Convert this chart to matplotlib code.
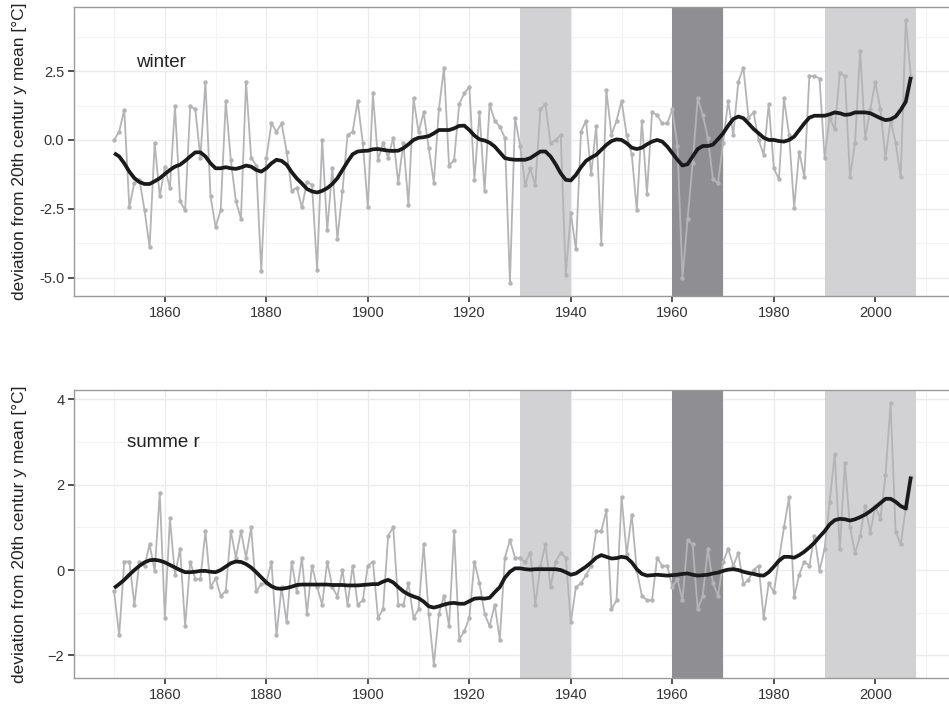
import numpy as np
import matplotlib
matplotlib.use("Agg")
import matplotlib.pyplot as plt
from matplotlib.ticker import MultipleLocator

plt.rcParams['font.family'] = ['Liberation Sans Narrow', 'Liberation Sans', 'DejaVu Sans']

years = np.arange(1850, 2008)

winter = [
    0.0, 0.3, 1.1, -2.45, -1.55, -1.45, -2.55, -3.9, -0.1, -2.05,
    -1.0, -1.75, 1.23, -2.23, -2.56, 1.23, 1.11, -0.64, 2.11, -2.05,
    -3.16, -2.56, 1.41, -0.72, -2.23, -2.86, 2.11, -0.64, -0.93, -4.77,
    -0.66, 0.6, 0.3, 0.6, -0.42, -1.85, -1.73, -2.45, -1.53, -1.63,
    -4.71, 0.0, -3.28, -1.03, -3.59, -1.85, 0.18, 0.30, 1.41, -0.10,
    -2.45, 1.69, -0.72, -0.12, -0.64, 0.08, -1.55, -0.10, -2.36, 1.51,
    0.28, 1.0, -0.30, -1.55, 1.11, 2.63, -0.94, -0.72, 1.30, 1.69,
    1.93, -1.45, 1.0, -1.85, 1.30, 0.70, 0.48, 0.08, -5.19, 0.81,
    -0.21, -1.65, -1.03, -1.65, 1.11, 1.30, -0.12, 0.0, 0.18, -4.89,
    -2.66, -3.98, 0.30, 0.70, -1.24, 0.51, -3.77, 1.81, 0.18, 0.70,
    1.41, 0.18, -0.52, -2.56, 0.70, -1.95, 1.0, 0.91, 0.60, 0.60,
    1.11, -0.21, -5.01, -2.87, -0.85, 1.51, 0.91, 0.08, -1.43, -1.57,
    -0.10, 1.41, 0.18, 2.11, 2.63, 0.81, 1.0, 0.0, -0.54, 1.30,
    -1.03, -1.43, 1.51, 0.18, -2.46, -0.42, -1.35, 2.32, 2.32, 2.23,
    -0.64, 0.81, 0.39, 2.44, 2.32, -1.35, -0.10, 3.24, 0.08, 1.11,
    2.11, 1.11, -0.64, 0.70, -0.10, -1.35, 4.35, 2.29,
]

winter_smooth = [
    -0.48, -0.6, -0.85, -1.15, -1.39, -1.53, -1.6, -1.6, -1.5, -1.39,
    -1.24, -1.09, -0.97, -0.9, -0.76, -0.6, -0.45, -0.45, -0.6, -0.85,
    -1.03, -1.03, -0.99, -1.03, -1.05, -1.0, -0.93, -0.97, -1.09, -1.15,
    -1.03, -0.85, -0.72, -0.76, -0.9, -1.17, -1.4, -1.58, -1.78, -1.87,
    -1.91, -1.85, -1.75, -1.6, -1.39, -1.09, -0.79, -0.52, -0.42, -0.4,
    -0.39, -0.34, -0.33, -0.36, -0.39, -0.4, -0.39, -0.3, -0.16, 0.0,
    0.08, 0.1, 0.14, 0.24, 0.36, 0.36, 0.36, 0.42, 0.51, 0.52,
    0.36, 0.16, 0.02, -0.02, -0.1, -0.24, -0.45, -0.66, -0.7, -0.72,
    -0.72, -0.72, -0.66, -0.54, -0.42, -0.42, -0.6, -0.88, -1.21, -1.45,
    -1.47, -1.27, -0.99, -0.76, -0.64, -0.54, -0.36, -0.18, -0.04, 0.02,
    0.0, -0.12, -0.28, -0.33, -0.28, -0.16, -0.06, 0.0, -0.06, -0.24,
    -0.48, -0.72, -0.93, -0.88, -0.6, -0.33, -0.22, -0.22, -0.17, 0.03,
    0.24, 0.52, 0.76, 0.85, 0.79, 0.6, 0.4, 0.24, 0.08, 0.0,
    0.0, -0.04, -0.06, 0.0, 0.12, 0.36, 0.6, 0.81, 0.88, 0.88,
    0.88, 0.93, 1.0, 0.97, 0.91, 0.93, 1.0, 1.0, 1.0, 0.97,
    0.88, 0.79, 0.72, 0.75, 0.85, 1.09, 1.39, 2.29,
]

summer = [
    -0.50, -1.53, 0.20, 0.20, -0.81, 0.20, 0.10, 0.60, -0.02, 1.81,
    -1.12, 1.21, -0.12, 0.50, -1.32, 0.20, -0.21, -0.21, 0.91, -0.40,
    -0.19, -0.60, -0.50, 0.91, 0.29, 0.91, 0.29, 1.00, -0.50, -0.33,
    -0.31, 0.20, -1.53, -0.40, -1.22, 0.20, -0.52, 0.29, -1.02, 0.10,
    -0.40, -0.81, 0.20, -0.40, -0.62, 0.0, -0.81, 0.10, -0.81, -0.71,
    0.10, 0.20, -1.12, -0.92, 0.80, 1.01, -0.81, -0.81, -0.31, -1.12,
    -0.92, 0.60, -1.02, -2.22, -1.02, -0.60, -1.32, 0.91, -1.63, -1.43,
    -1.12, 0.20, -0.31, -1.02, -1.32, -0.81, -1.63, 0.29, 0.70, 0.29,
    0.29, 0.18, 0.40, -0.81, 0.10, 0.60, -0.40, 0.20, 0.40, 0.29,
    -1.22, -0.40, -0.31, -0.12, 0.10, 0.91, 0.91, 1.40, -0.92, -0.71,
    1.71, 0.37, 1.30, -0.02, -0.60, -0.71, -0.71, 0.29, 0.10, 0.10,
    -0.40, -0.21, -0.71, 0.70, 0.60, -0.92, -0.60, 0.50, -0.31, -0.60,
    0.18, 0.50, 0.10, 0.40, -0.33, -0.23, 0.0, 0.10, -1.12, -0.30,
    -0.52, 0.24, 1.00, 1.71, -0.64, -0.11, 0.20, 0.10, 0.80, -0.02,
    0.50, 1.60, 2.71, 0.49, 2.52, 1.01, 0.39, 0.80, 1.51, 0.88,
    1.50, 1.20, 2.22, 3.91, 0.90, 0.60, 1.46, 2.19,
]

summer_smooth = [
    -0.42, -0.33, -0.23, -0.11, 0.0, 0.1, 0.18, 0.23, 0.24, 0.22,
    0.18, 0.12, 0.06, 0.0, -0.05, -0.05, -0.04, -0.02, -0.02, -0.04,
    -0.05, 0.0, 0.08, 0.16, 0.2, 0.19, 0.14, 0.06, -0.05, -0.17,
    -0.29, -0.38, -0.43, -0.44, -0.42, -0.39, -0.35, -0.34, -0.34, -0.34,
    -0.34, -0.34, -0.34, -0.35, -0.35, -0.35, -0.36, -0.36, -0.36, -0.35,
    -0.34, -0.33, -0.33, -0.27, -0.23, -0.29, -0.4, -0.5, -0.57, -0.62,
    -0.66, -0.74, -0.85, -0.88, -0.85, -0.81, -0.78, -0.77, -0.79, -0.79,
    -0.73, -0.67, -0.66, -0.67, -0.65, -0.52, -0.4, -0.18, -0.04, 0.04,
    0.04, 0.02, 0.01, 0.02, 0.02, 0.02, 0.02, 0.02, 0.0, -0.05,
    -0.11, -0.08, 0.0, 0.08, 0.18, 0.29, 0.35, 0.31, 0.27, 0.28,
    0.31, 0.29, 0.18, 0.02, -0.09, -0.13, -0.12, -0.11, -0.12, -0.13,
    -0.12, -0.11, -0.09, -0.08, -0.11, -0.13, -0.12, -0.11, -0.08, -0.06,
    -0.02, 0.01, 0.02, 0.0, -0.04, -0.07, -0.09, -0.12, -0.13, -0.05,
    0.08, 0.22, 0.31, 0.31, 0.29, 0.35, 0.43, 0.53, 0.64, 0.78,
    0.91, 1.07, 1.17, 1.2, 1.19, 1.16, 1.19, 1.24, 1.3, 1.38,
    1.47, 1.57, 1.67, 1.67, 1.6, 1.5, 1.44, 2.19,
]

bands = [(1930, 1940, '#d2d2d4'), (1960, 1970, '#8f8f93'), (1990, 2008, '#d2d2d4')]
panel_labels = ['winter', 'summe r']
ylabel = 'deviation from 20th centur y mean [°C]'
x_ticks = [1860, 1880, 1900, 1920, 1940, 1960, 1980, 2000]

fig = plt.figure(figsize=(9.49, 7.08), dpi=100)
W, H = 949, 708
PX_PER_YEAR = 5.075
AX_W = 900
x_left = 1842.1
x_right = x_left + AX_W / PX_PER_YEAR
ax_w = fig.add_axes([74 / W, 1 - 296 / H, AX_W / W, 289 / H])
ax_s = fig.add_axes([74 / W, 1 - 678 / H, AX_W / W, 288 / H])

configs = [
    (ax_w, winter, winter_smooth, (-5.67, 4.83), 2.5, 1.25, (1854.3, 2.8), panel_labels[0]),
    (ax_s, summer, summer_smooth, (-2.53, 4.22), 2, 1, (1852.6, 2.98), panel_labels[1]),
]

for ax, vals, smooth, ylim, major, minor, lpos, lab in configs:
    ax.set_facecolor('white')
    for x0, x1, c in bands:
        ax.axvspan(x0, x1, color=c, lw=0, zorder=1)
    ax.plot(years, vals, color='#b4b4b7', lw=1.3, marker='o', ms=3.2,
            markeredgewidth=0, zorder=3)
    ax.plot(years, smooth, color='#1a1a1a', lw=2.7, zorder=4,
            solid_capstyle='butt', solid_joinstyle='round')
    ax.set_xlim(x_left, x_right)
    ax.set_ylim(*ylim)
    ax.set_xticks(x_ticks)
    ax.xaxis.set_minor_locator(MultipleLocator(10))
    ax.yaxis.set_major_locator(MultipleLocator(major))
    ax.yaxis.set_minor_locator(MultipleLocator(minor))
    if major == 2.5:
        ax.yaxis.set_major_formatter(matplotlib.ticker.FormatStrFormatter('%.1f'))
    ax.grid(which='major', color='#ebebeb', lw=1.0, zorder=0)
    ax.grid(which='minor', color='#f3f3f3', lw=0.8, zorder=0)
    ax.set_axisbelow(True)
    for s in ax.spines.values():
        s.set_color('#9a9a9a')
        s.set_linewidth(1.0)
    ax.spines['right'].set_visible(False)
    ax.tick_params(which='major', length=4, width=1.2, color='#333333',
                   labelsize=10.5, labelcolor='#333333', pad=3)
    ax.tick_params(which='minor', length=0)
    ax.set_ylabel(ylabel, fontsize=12.5, color='#222222')
    ax.yaxis.set_label_coords((27 - 74) / AX_W, 0.5)
    ax.text(lpos[0], lpos[1], lab, fontsize=13.5, color='#222222',
            ha='left', va='center', zorder=5)

fig.savefig('out.png', dpi=100)
